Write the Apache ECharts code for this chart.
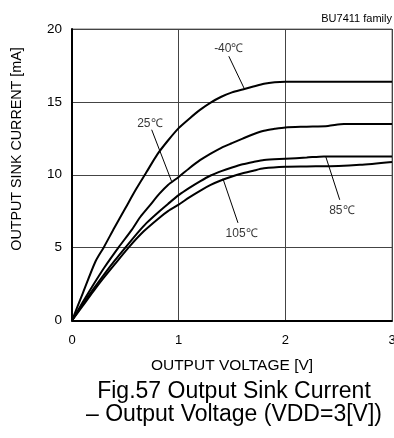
<!DOCTYPE html>
<html>
<head>
<meta charset="utf-8">
<script src="https://cdn.jsdelivr.net/npm/echarts@6/dist/echarts.min.js"></script>
<style>
html,body{margin:0;padding:0;background:#fff;}
#c{width:394px;height:438px;}
</style>
</head>
<body>
<div id="c"></div>
<script>
const seriesNames = ['-40℃', '25℃', '85℃', '105℃'];
const curveM40 = [[0,0],[0.1,1.85],[0.22,4.05],[0.3,5.05],[0.4,6.4],[0.5,7.7],[0.6,9.0],[0.7,10.2],[0.8,11.4],[0.9,12.35],[1.0,13.2],[1.1,13.85],[1.2,14.45],[1.3,14.95],[1.4,15.35],[1.5,15.65],[1.6,15.85],[1.7,16.05],[1.8,16.25],[1.9,16.35],[2.0,16.38],[2.5,16.38],[3.0,16.38]];
const curve25 = [[0,0],[0.1,1.25],[0.2,2.45],[0.3,3.6],[0.435,5.0],[0.56,6.22],[0.64,7.1],[0.73,7.9],[0.82,8.7],[0.9,9.3],[1.0,9.85],[1.1,10.45],[1.2,11.0],[1.3,11.45],[1.4,11.85],[1.5,12.17],[1.6,12.48],[1.7,12.78],[1.8,13.02],[1.9,13.15],[2.0,13.25],[2.2,13.3],[2.4,13.35],[2.55,13.48],[3.0,13.48]];
const curve85 = [[0,0],[0.1,1.1],[0.2,2.15],[0.3,3.15],[0.4,4.1],[0.5,5.0],[0.625,6.1],[0.7,6.7],[0.82,7.5],[0.9,8.0],[1.0,8.6],[1.1,9.1],[1.2,9.55],[1.3,9.95],[1.4,10.25],[1.5,10.5],[1.6,10.72],[1.7,10.88],[1.8,11.02],[2.0,11.1],[2.2,11.18],[2.36,11.26],[3.0,11.26]];
const curve105 = [[0,0],[0.1,1.0],[0.2,2.0],[0.3,2.95],[0.4,3.85],[0.53,5.0],[0.67,6.1],[0.82,7.05],[0.9,7.5],[1.0,7.95],[1.1,8.45],[1.2,8.9],[1.3,9.3],[1.4,9.62],[1.5,9.88],[1.6,10.1],[1.7,10.28],[1.8,10.44],[2.0,10.55],[2.2,10.57],[2.5,10.6],[2.7,10.68],[3.0,10.88]];
const curves = [curveM40, curve25, curve85, curve105];

const labelPos = [[1.47,18.66],[0.73,13.5],[2.53,7.53],[1.59,5.95]];
const leaderFrom = [[1.47,18.13],[0.747,13.09],[2.38,11.22],[1.415,9.73]];
const leaderTo = [[1.615,15.91],[0.934,9.54],[2.51,8.28],[1.556,6.70]];

const xTicks = [0, 1, 2, 3];
const yTicks = [0, 5, 10, 15, 20];

const FONT = "'Liberation Sans', Arial, sans-serif";

const chart = echarts.init(document.getElementById('c'), null, {renderer:'canvas'});

const series = curves.map((d, i) => ({
  name: seriesNames[i],
  type: 'line',
  data: d,
  showSymbol: false,
  smooth: 0.25,
  lineStyle: {color:'#000', width: 2},
  z: 5,
  markLine: {
    silent: true,
    symbol: 'none',
    label: {show:false},
    lineStyle: {color:'#000', width:1, type:'solid'},
    data: [[{coord: leaderFrom[i]}, {coord: leaderTo[i]}]]
  }
}));

series.push({
  type: 'scatter',
  data: labelPos.map((p, i) => ({value: p, name: seriesNames[i]})),
  symbolSize: 0,
  z: 6,
  label: {
    show: true,
    position: 'inside',
    formatter: p => p.name,
    color: '#000',
    fontSize: 12,
    fontFamily: FONT
  }
});

chart.setOption({
  animation: false,
  backgroundColor: '#fff',
  grid: {left: 72, right: 2, top: 29, bottom: 117.5, show: true, borderColor: '#777', borderWidth: 1,
         containLabel: false, outerBoundsMode: 'none'},
  title: {
    text: 'Fig.57 Output Sink Current\n– Output Voltage (VDD=3[V])',
    left: 229, top: 375, textAlign: 'center',
    textStyle: {fontSize: 23, fontWeight: 'normal', color: '#000', fontFamily: FONT, lineHeight: 23}
  },
  graphic: [
    {type:'text', right: 2, top: 13, style:{text:'BU7411 family', fontSize: 11, fill:'#000', fontFamily: FONT}},
    {type:'text', x: 17, y: 149, rotation: Math.PI/2,
     style:{text:'OUTPUT SINK CURRENT [mA]', fontSize: 14.3, fill:'#000', fontFamily: FONT, align:'center', verticalAlign:'middle'}}
  ],
  xAxis: {
    type: 'value', min: xTicks[0], max: xTicks[xTicks.length-1], interval: 1,
    name: 'OUTPUT VOLTAGE [V]', nameLocation: 'middle', nameGap: 37,
    nameTextStyle: {fontSize: 15.5, color:'#000', fontFamily: FONT},
    axisLine: {show: true, lineStyle: {color:'#000', width: 2}},
    axisTick: {show: false},
    axisLabel: {color:'#000', fontSize: 13, margin: 13, fontFamily: FONT, showMaxLabel: true, showMinLabel: true},
    splitLine: {show: true, lineStyle: {color:'#444', width: 1}}
  },
  yAxis: {
    type: 'value', min: yTicks[0], max: yTicks[yTicks.length-1], interval: 5,
    axisLine: {show: true, lineStyle: {color:'#000', width: 2}},
    axisTick: {show: false},
    axisLabel: {color:'#000', fontSize: 13.5, margin: 10, fontFamily: FONT},
    splitLine: {show: true, lineStyle: {color:'#444', width: 1}}
  },
  series: series
});
</script>
</body>
</html>
